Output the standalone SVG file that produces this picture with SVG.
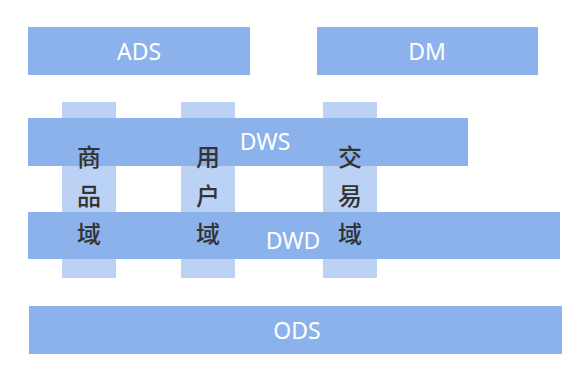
<svg xmlns="http://www.w3.org/2000/svg" width="579" height="365" viewBox="0 0 579 365">
<style>
.bar{fill:#8cb2eb}
.col{fill:#bcd2f4}
.lbl{font-family:"Noto Sans","DejaVu Sans",sans-serif;font-size:23px;fill:#ffffff;text-anchor:middle;dominant-baseline:central}
.cn{font-family:"Noto Sans CJK SC",sans-serif;font-size:24px;font-weight:500;fill:#333333;text-anchor:middle;dominant-baseline:central}
</style>
<rect width="579" height="365" fill="#ffffff"/>
<g id="col-goods"><rect class="col" x="62" y="102" width="54" height="176"/></g>
<g id="col-user"><rect class="col" x="181" y="102" width="54" height="176"/></g>
<g id="col-trade"><rect class="col" x="323" y="102" width="54" height="176"/></g>
<g id="ADS"><rect class="bar" x="28" y="27" width="222" height="48"/><text class="lbl" x="139" y="51">ADS</text></g>
<g id="DM"><rect class="bar" x="317" y="27" width="221" height="48"/><text class="lbl" x="427" y="51">DM</text></g>
<g id="DWS"><rect class="bar" x="28" y="118" width="440" height="48"/><text class="lbl" x="265" y="141">DWS</text></g>
<g id="DWD"><rect class="bar" x="28" y="212" width="532" height="47"/><text class="lbl" x="293" y="240">DWD</text></g>
<g id="ODS"><rect class="bar" x="29" y="306" width="533" height="48"/><text class="lbl" x="297" y="330">ODS</text></g>
<g id="labels-goods"><text class="cn" x="89" y="155">商</text><text class="cn" x="89" y="194">品</text><text class="cn" x="89" y="232">域</text></g>
<g id="labels-user"><text class="cn" x="208" y="155">用</text><text class="cn" x="208" y="194">户</text><text class="cn" x="208" y="232">域</text></g>
<g id="labels-trade"><text class="cn" x="350" y="155">交</text><text class="cn" x="350" y="194">易</text><text class="cn" x="350" y="232">域</text></g>
<g id="connectors"></g>
</svg>
